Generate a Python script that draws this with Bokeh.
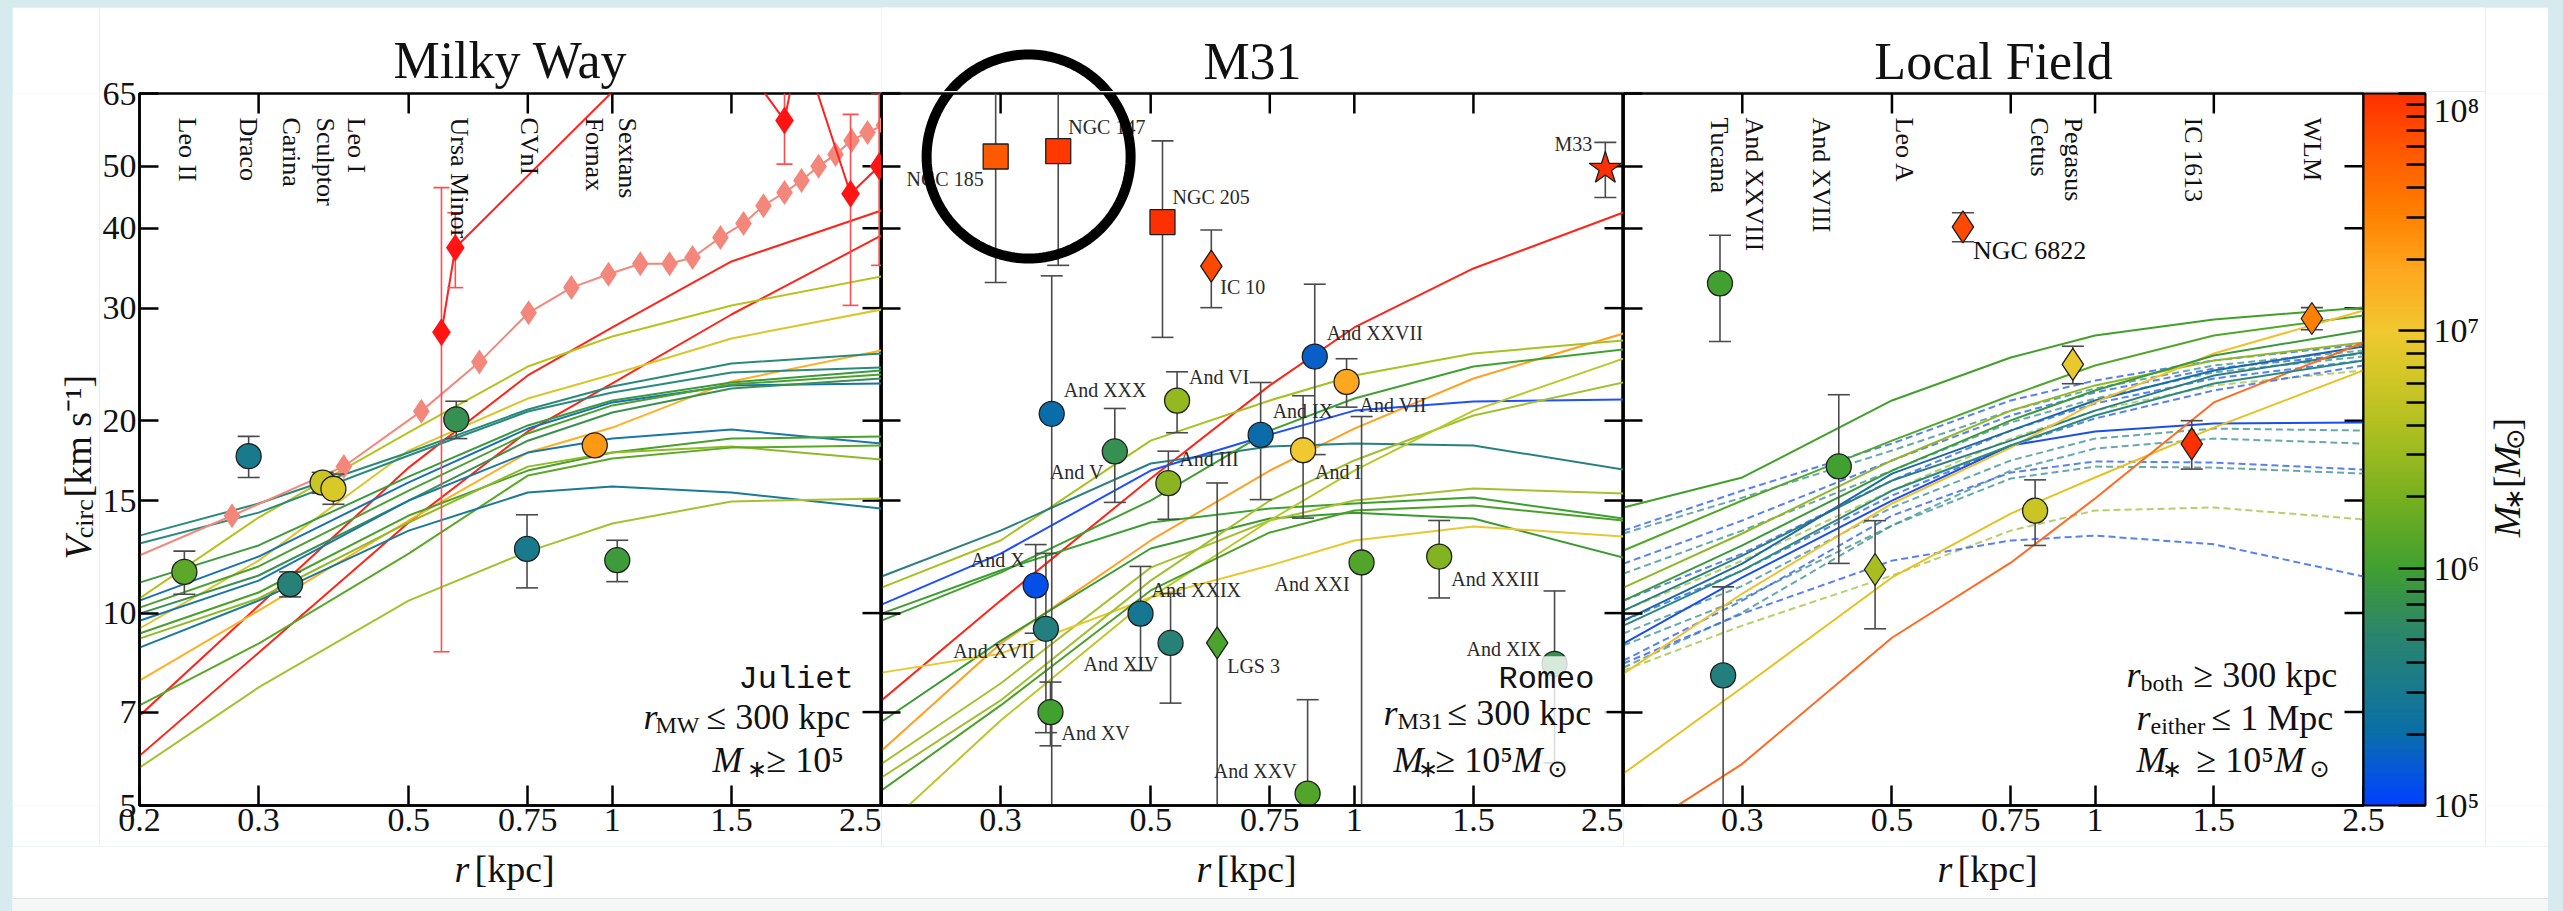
import math
import numpy as np
from bokeh.plotting import figure
from bokeh.layouts import row, column
from bokeh.models import (Range1d, FixedTicker, CustomJSTickFormatter,
                          LogColorMapper, ColorBar, ColumnDataSource)
from bokeh.core.properties import value
from bokeh.embed import file_html
from bokeh.resources import INLINE

SERIF = "Liberation Serif"
MONO = "Liberation Mono"
INK = "#111111"

# ------------------------------------------------------------------ data
R_TICKS = [0.2, 0.3, 0.5, 0.75, 1.0, 1.5, 2.5]
V_TICKS = [5, 7, 10, 15, 20, 30, 40, 50, 65]

# radii (kpc) at which the simulated circular-velocity curves are tabulated
curve_r = [0.2, 0.3, 0.5, 0.75, 1.0, 1.5, 2.5]

# Juliet (MW analogue) subhaloes, V_circ in km/s
juliet_vc = [
    [6.91, 10.27, 16.89, 23.54, 27.98, 35.49, 42.65],
    [5.98, 8.67, 13.86, 19.24, 22.87, 29.32, 38.98],
    [10.54, 14.11, 19.17, 24.31, 27.09, 30.29, 33.63],
    [9.46, 12.08, 17.96, 21.66, 23.62, 26.89, 29.85],
    [7.84, 10.09, 13.96, 17.83, 19.51, 23.04, 25.76],
    [13.22, 14.84, 17.83, 20.82, 22.62, 24.58, 25.48],
    [12.85, 14.36, 17.64, 20.67, 22.14, 23.80, 24.23],
    [11.16, 12.76, 16.35, 19.66, 21.51, 22.95, 23.97],
    [10.46, 12.26, 16.01, 19.44, 21.36, 22.71, 22.87],
    [10.20, 11.83, 15.55, 19.10, 21.13, 22.79, 23.62],
    [9.98, 11.45, 15.00, 18.61, 20.60, 22.46, 23.28],
    [9.73, 11.24, 15.00, 17.83, 18.75, 19.37, 18.42],
    [9.29, 10.77, 14.21, 16.71, 17.83, 18.75, 18.89],
    [9.12, 10.54, 13.86, 16.95, 17.83, 18.22, 17.39],
    [7.17, 8.96, 12.39, 16.41, 17.45, 18.15, 18.29],
    [8.83, 10.46, 13.46, 15.44, 15.78, 15.44, 14.57],
    [5.73, 7.65, 10.46, 12.48, 13.81, 14.95, 15.11],
]
# Romeo (M31 analogue) subhaloes
romeo_vc = [
    [7.30, 10.46, 16.24, 22.71, 27.98, 34.61, 42.34],
    [6.09, 8.96, 12.99, 16.71, 19.44, 23.28, 27.38],
    [10.96, 12.99, 18.61, 21.51, 23.54, 25.48, 26.70],
    [11.41, 13.46, 17.14, 18.22, 18.42, 18.29, 16.77],
    [10.31, 12.39, 16.71, 19.03, 20.74, 21.43, 21.59],
    [9.73, 11.57, 15.00, 19.30, 21.66, 24.31, 25.85],
    [9.98, 11.66, 13.86, 14.57, 14.84, 15.16, 14.06],
    [6.76, 9.05, 12.62, 14.06, 14.36, 14.06, 12.21],
    [5.81, 7.76, 11.78, 13.96, 15.00, 15.66, 15.38],
    [8.07, 8.64, 10.58, 11.87, 12.99, 13.66, 13.18],
    [5.53, 7.30, 11.24, 15.00, 17.33, 20.38, 22.95],
    [4.57, 6.79, 10.58, 13.96, 16.71, 20.74, 25.02],
    [5.28, 7.17, 10.85, 13.37, 14.47, 14.73, 13.96],
]
# isolated field haloes, first simulation (solid)
field_vc = [
    [14.63, 16.30, 21.51, 25.11, 27.18, 28.80, 30.07],
    [12.53, 15.00, 18.61, 21.90, 24.40, 27.18, 29.22],
    [10.96, 13.32, 17.33, 20.74, 22.71, 24.85, 26.51],
    [10.09, 12.30, 16.12, 18.61, 20.74, 23.54, 25.57],
    [8.96, 11.37, 15.00, 18.29, 19.24, 19.80, 19.87],
    [9.73, 11.95, 16.53, 19.30, 21.51, 23.97, 26.13],
    [8.04, 10.73, 14.84, 18.15, 21.36, 25.48, 29.75],
    [5.61, 7.65, 11.37, 14.31, 16.30, 19.51, 23.97],
    [4.41, 5.81, 9.15, 11.99, 15.11, 21.36, 26.51],
    [10.46, 12.76, 16.71, 20.02, 22.30, 25.30, 27.68],
    [9.56, 11.66, 15.55, 18.29, 20.38, 22.87, 24.85],
]
# isolated field haloes, second simulation (dashed)
field2_vc = [
    [13.46, 15.55, 18.42, 21.51, 23.11, 24.85, 26.32],
    [13.32, 15.16, 17.96, 20.74, 22.46, 24.40, 25.76],
    [11.95, 13.96, 17.33, 20.38, 22.14, 24.14, 25.48],
    [11.53, 13.46, 16.71, 19.87, 21.66, 23.80, 25.21],
    [10.46, 12.39, 16.12, 19.30, 21.28, 23.28, 24.85],
    [10.09, 12.08, 15.55, 18.75, 20.74, 22.71, 23.97],
    [9.73, 11.66, 15.27, 18.29, 20.16, 22.30, 24.40],
    [9.29, 11.03, 14.63, 17.33, 18.75, 19.44, 19.30],
    [8.90, 10.54, 13.71, 16.71, 18.09, 18.75, 18.42],
    [8.43, 10.46, 14.21, 16.59, 17.27, 17.20, 16.77],
    [8.22, 10.02, 13.71, 16.24, 16.95, 16.89, 16.53],
    [8.13, 9.56, 11.45, 13.46, 14.47, 14.63, 14.01],
    [8.34, 9.98, 12.08, 12.99, 13.22, 12.81, 11.41],
]

# rotation-curve measurements drawn in the MW panel
rc_pink_r = [0.15, 0.274, 0.401, 0.522, 0.636, 0.752, 0.870, 0.987, 1.10, 1.215,
             1.314, 1.445, 1.563, 1.673, 1.797, 1.904, 2.018, 2.138, 2.258, 2.384, 2.52]
rc_pink_v = [10.8, 14.2, 16.96, 20.7, 24.7, 29.5, 32.3, 33.9, 35.2, 35.2,
             36.0, 38.7, 40.7, 43.4, 45.5, 47.5, 50.0, 52.2, 54.9, 56.5, 58.0]
rc_red_r = [0.559, 0.586, 1.35, 1.797, 1.896, 2.25, 2.48]
rc_red_v = [27.5, 37.3, 89.6, 59.0, 78.7, 45.3, 50.0]
rc_red_err = [18.8, 5.0, 0.0, 8.6, 0.0, 15.0, 15.0]

# observed dwarfs: half-light radius (kpc), V_circ (km/s), errors, log10 M*
mw_name = ["Leo II", "Draco", "Carina", "Sculptor", "Leo I", "Ursa Minor",
           "CVnI", "Fornax", "Sextans"]
mw_r = [0.233, 0.290, 0.334, 0.373, 0.387, 0.588, 0.748, 0.942, 1.017]
mw_v = [11.6, 17.6, 11.1, 16.0, 15.65, 20.1, 12.6, 18.3, 12.1]
mw_err = [0.9, 1.3, 0.5, 0.6, 0.85, 1.35, 1.65, 0.4, 0.9]
mw_logm = [6.15, 5.5, 5.65, 6.75, 6.85, 5.85, 5.5, 7.35, 5.95]

m31_name = ["NGC 185", "NGC 147", "NGC 205", "IC 10", "M33", "And XXX", "And V",
            "And VI", "And III", "And X", "And XVII", "And XV", "And XIV",
            "And XXIX", "LGS 3", "And XXVII", "And VII", "And IX", "And I",
            "And XXI", "And XXIII", "And XIX", "And XXV"]
m31_r = [0.295, 0.365, 0.5205, 0.6146, 2.35, 0.357, 0.4425, 0.547, 0.531, 0.338,
         0.350, 0.3555, 0.483, 0.535, 0.627, 0.874, 0.974, 0.727, 0.840, 1.025,
         1.335, 1.977, 0.853]
m31_v = [51.8, 52.8, 40.9, 34.9, 49.6, 20.5, 17.9, 21.5, 15.97, 11.05, 9.45, 7.0,
         9.98, 8.98, 8.98, 25.2, 23.0, 19.0, 17.98, 12.0, 12.26, 8.33, 5.22]
m31_err_lo = [18.9, 17.8, 13.9, 4.85, 4.9, 16.5, 3.0, 2.35, 1.95, 1.75, 2.95, 0.8,
              1.85, 1.75, 7.0, 7.5, 2.0, 3.95, 3.9, 8.3, 1.7, 2.5, 2.1]
m31_err_hi = [18.9, 17.8, 13.9, 4.85, 4.9, 13.2, 3.0, 2.35, 1.95, 1.75, 2.95, 0.8,
              1.85, 1.75, 7.0, 7.5, 2.0, 3.95, 3.9, 8.3, 1.7, 2.5, 2.1]
m31_logm = [7.75, 7.95, 8.2, 7.85, 9.0, 5.3, 5.85, 6.45, 6.4, 5.1, 5.6, 6.0, 5.45,
            5.65, 6.05, 5.2, 7.25, 5.3, 7.0, 6.1, 6.35, 5.85, 6.1]

lf_name = ["Tucana", "And XXVIII", "And XVIII", "Leo A", "Cetus", "Pegasus",
           "NGC 6822", "IC 1613", "WLM"]
lf_r = [0.278, 0.281, 0.417, 0.472, 0.815, 0.927, 0.637, 1.391, 2.096]
lf_v = [32.8, 7.99, 16.96, 11.7, 14.46, 24.5, 40.2, 18.4, 28.9]
lf_err = [6.2, 3.0, 5.0, 2.25, 1.7, 1.65, 2.1, 1.6, 1.15]
lf_logm = [6.0, 5.6, 6.0, 6.55, 6.75, 6.95, 7.85, 8.0, 7.5]

# ------------------------------------------------------------------ styles
juliet_colors = ["#ff2418", "#ff2418", "#b5c41c", "#d9c62a", "#ffb020", "#2a8a7a",
                 "#2a8a80", "#3c9a3c", "#1a70b0", "#4aa030", "#3a9050", "#1a78a8",
                 "#4aa02a", "#8fba28", "#5aa828", "#1a7a98", "#a8c030"]
romeo_colors = ["#ff2418", "#ffa020", "#a8c020", "#2a8080", "#1f4fff", "#40a030",
                "#3aa030", "#3a9a30", "#a8c030", "#e8c830", "#a0c030", "#b8c828",
                "#4aa028"]
field_colors = ["#40a028", "#50a828", "#90b828", "#2a8080", "#1a50e8", "#1a6aa8",
                "#f0c030", "#e8c020", "#ff6a20", "#3a9a3a", "#2a8a80"]
field2_colors = ["#3b6cf0", "#4a9a9a", "#3b6cf0", "#4a9a9a", "#3b6cf0", "#a8c850",
                 "#3b6cf0", "#4a9a9a", "#4a9a9a", "#3b6cf0", "#4a9a9a", "#a8c850",
                 "#3b6cf0"]

mw_marker = ["circle"] * 9
mw_label_dx = [3, 0, 1, 3, 23, 3, 2, 0, 10]
m31_marker = ["square", "square", "square", "diamond", "star"] + ["circle"] * 9 + \
             ["diamond"] + ["circle"] * 8
m31_label = [(-12, 22, "right"), (10, -24, "left"), (10, -25, "left"), (9, 21, "left"),
             (-13, -25, "right"), (12, -24, "left"), (-11, 21, "right"),
             (12, -24, "left"), (11, -24, "left"), (-11, -25, "right"),
             (-11, 22, "right"), (11, 21, "left"), (18, 50, "right"),
             (-19, -53, "left"), (10, 23, "left"), (12, -24, "left"), (13, 23, "left"),
             (12, -24, "left"), (12, 22, "left"), (-12, 22, "right"), (12, 22, "left"),
             (-13, -15, "right"), (-11, -23, "right")]
lf_marker = ["circle", "circle", "circle", "diamond", "circle", "diamond", "diamond",
             "diamond", "diamond"]
lf_label_dx = [0, 31, -17, 29, 4, 1, None, 2, 1]
MSIZE = {"circle": 25, "square": 25, "diamond": 32, "star": 34}

# stellar-mass colour scale
anchors = [(0.00, "#0040ff"), (0.15, "#0758d8"), (0.30, "#0a6ea8"), (0.50, "#1a7a8c"),
           (0.70, "#2a8470"), (0.85, "#359050"), (1.00, "#40a030"), (1.30, "#78b020"),
           (1.60, "#b0c020"), (1.85, "#d8c828"), (2.00, "#f0c830"), (2.25, "#ffa820"),
           (2.50, "#ff8000"), (2.75, "#ff5a00"), (3.00, "#ff3000")]


def _rgb(h):
    return [int(h[i:i + 2], 16) for i in (1, 3, 5)]


palette = []
for k in range(256):
    t = 3.0 * k / 255
    for (t0, c0), (t1, c1) in zip(anchors[:-1], anchors[1:]):
        if t0 <= t <= t1:
            f = (t - t0) / (t1 - t0)
            a, b = _rgb(c0), _rgb(c1)
            palette.append("#%02x%02x%02x" % tuple(round(a[j] + f * (b[j] - a[j])) for j in range(3)))
            break
mapper = LogColorMapper(palette=palette, low=1e5, high=1e8)

# ------------------------------------------------------------------ page geometry (px)
PAGE_L, PAGE_T = 12, 7
LEFT_W, P1_LB, P3_RB, RIGHT_W = 87, 40, 122, 63
FRAME_W = (742, 742, 740)
HEAD_H, TOP_B, FRAME_H, BOT_B, FOOT_H = 84, 2, 712, 41, 65
FRAME_X0 = [PAGE_L + LEFT_W + P1_LB]
FRAME_X0.append(FRAME_X0[0] + FRAME_W[0])
FRAME_X0.append(FRAME_X0[1] + FRAME_W[1])
FRAME_TOP = PAGE_T + HEAD_H + TOP_B
FRAME_BOT = FRAME_TOP + FRAME_H
BODY_H = HEAD_H + TOP_B + FRAME_H + BOT_B   # everything above the foot strip
KY = math.log(65 / 5) / FRAME_H          # ln(v) per px


def make_panel(k, left, right, top, first_xlabel, ylabels):
    p = figure(width=left + FRAME_W[k] + right, height=top + FRAME_H + BOT_B,
               x_axis_type="log", y_axis_type="log",
               x_range=Range1d(0.2, 2.5), y_range=Range1d(5, 65),
               output_backend="svg", toolbar_location=None,
               min_border_left=left, min_border_right=right,
               min_border_top=top, min_border_bottom=BOT_B,
               background_fill_color="white", border_fill_color="white",
               outline_line_color="black", outline_line_width=2.5)
    p.grid.visible = False
    xa, ya = p.xaxis[0], p.yaxis[0]
    xa.ticker = FixedTicker(ticks=R_TICKS)
    xa.formatter = CustomJSTickFormatter(
        code="return String(tick);" if first_xlabel else "return tick < 0.25 ? '' : String(tick);")
    ya.ticker = FixedTicker(ticks=V_TICKS)
    ya.formatter = CustomJSTickFormatter(code="return String(tick);" if ylabels else "return '';")
    for ax, tick_len, labelled in ((xa, 20, True), (ya, 19, ylabels)):
        ax.major_tick_in = tick_len
        ax.major_tick_out = 0
        ax.minor_tick_in = 0
        ax.minor_tick_out = 0
        ax.major_tick_line_width = 2.5
        ax.major_tick_line_color = "black"
        ax.axis_line_width = 2.5
        ax.axis_line_color = "black"
        ax.major_label_text_font = SERIF
        ax.major_label_text_color = INK
        ax.major_label_text_font_size = "34px" if labelled else "0px"
        ax.major_label_standoff = 3 if labelled else 0
    # inward ticks on the top and right frame edges
    kx = math.log(2.5 / 0.2) / FRAME_W[k]
    rt = R_TICKS[1:-1]
    p.segment(x0=rt, y0=[65] * len(rt), x1=rt, y1=[65 * math.exp(-20 * KY)] * len(rt),
              line_color="black", line_width=2.5)
    vt = V_TICKS[1:-1]
    p.segment(x0=[2.5] * len(vt), y0=vt, x1=[2.5 * math.exp(-19 * kx)] * len(vt), y1=vt,
              line_color="black", line_width=2.5)
    return p


def strip(w, h):
    s = figure(width=w, height=h, x_range=Range1d(0, w), y_range=Range1d(0, h),
               output_backend="svg", toolbar_location=None, min_border=0,
               x_axis_location=None, y_axis_location=None,
               outline_line_color=None, background_fill_color="white",
               border_fill_color="white")
    s.grid.visible = False
    return s


def draw_curves(p, curves, colors, dash="solid", alpha=1.0):
    p.multi_line(xs=[curve_r] * len(curves), ys=curves, line_color=colors,
                 line_width=2.0, line_dash=dash, line_alpha=alpha)


def draw_points(p, r, v, lo, hi, logm, markers):
    vlo = [a - b for a, b in zip(v, lo)]
    vhi = [a + b for a, b in zip(v, hi)]
    p.segment(x0=r, y0=vlo, x1=r, y1=vhi, line_color="#4a4a4a", line_width=1.6)
    p.scatter(x=list(r) + list(r), y=vlo + vhi, marker="dash", size=22,
              line_color="#4a4a4a", line_width=1.6)
    src = ColumnDataSource(dict(r=r, v=v, mstar=[10 ** m for m in logm], marker=markers,
                                size=[MSIZE[m] for m in markers]))
    p.scatter(x="r", y="v", marker="marker", size="size", source=src,
              fill_color={"field": "mstar", "transform": mapper},
              line_color="#1e1e1e", line_width=1.3)


def top_labels(p, r, names, dx):
    keep = [i for i, d in enumerate(dx) if d is not None]
    p.text(x=[r[i] for i in keep], y=[65] * len(keep), text=[names[i] for i in keep],
           x_offset=[dx[i] for i in keep], y_offset=24, angle=-math.pi / 2,
           text_align="left", text_baseline="middle", text_font=value(SERIF),
           text_font_size="26px", text_color=INK)


def corner_text(p, pieces):
    # left-aligned, vertically centred pieces; offsets from the lower-right frame corner
    for txt, xo, yo, size, style, font in pieces:
        p.text(x=[2.5], y=[5], text=[txt], x_offset=xo, y_offset=yo,
               text_font=value(font), text_font_size=f"{size}px", text_font_style=style,
               text_align="left", text_baseline="middle", text_color=INK)


def mass_line(x_m, x_star, x_rel, x_m2, x_sun, y):
    out = [("M", x_m, y, 36, "italic", SERIF), ("∗", x_star, y + 9, 24, "normal", SERIF),
           ("≥ 10⁵", x_rel, y, 36, "normal", SERIF)]
    if x_m2 is not None:
        out += [("M", x_m2, y, 36, "italic", SERIF), ("⊙", x_sun, y + 9, 24, "normal", "DejaVu Sans")]
    return out


# ------------------------------------------------------------------ Milky Way
p1 = make_panel(0, P1_LB, 0, HEAD_H + TOP_B, True, True)
p1.title.text = "Milky Way"
p1.title.align = "center"
p1.title.vertical_align = "bottom"
p1.title.standoff = 10
p1.title.text_font = SERIF
p1.title.text_font_size = "52px"
p1.title.text_font_style = "normal"
p1.title.text_color = INK
draw_curves(p1, juliet_vc, juliet_colors)
p1.line(rc_pink_r, rc_pink_v, line_color="#f4877b", line_width=2)
p1.scatter(rc_pink_r, rc_pink_v, marker="diamond", size=25, fill_color="#f4877b", line_color=None)
rlo = [a - b for a, b in zip(rc_red_v, rc_red_err)]
rhi = [a + b for a, b in zip(rc_red_v, rc_red_err)]
p1.line(rc_red_r, rc_red_v, line_color="#ff2020", line_width=2)
p1.segment(x0=rc_red_r, y0=rlo, x1=rc_red_r, y1=rhi, line_color="#ff4d4d", line_width=1.6)
p1.scatter(x=rc_red_r + rc_red_r, y=rlo + rhi, marker="dash", size=16, line_color="#ff4d4d", line_width=1.6)
p1.scatter(rc_red_r, rc_red_v, marker="diamond", size=28, fill_color="#ff1414", line_color=None)
draw_points(p1, mw_r, mw_v, mw_err, mw_err, mw_logm, mw_marker)
top_labels(p1, mw_r, mw_name, mw_label_dx)
corner_text(p1, [
    ("Juliet", -143, -126, 32, "normal", MONO),
    ("r", -238, -89, 36, "italic", SERIF),
    ("MW", -226, -81, 24, "normal", SERIF),
    ("≤ 300 kpc", -175, -89, 36, "normal", SERIF),
] + mass_line(-169, -135, -115, None, None, -46))

# ------------------------------------------------------------------ M31
p2 = make_panel(1, 0, 0, TOP_B, False, False)
draw_curves(p2, romeo_vc, romeo_colors)
draw_points(p2, m31_r, m31_v, m31_err_lo, m31_err_hi, m31_logm, m31_marker)
p2.text(x=m31_r, y=m31_v, text=m31_name, x_offset=[a[0] for a in m31_label],
        y_offset=[a[1] for a in m31_label], text_align=[a[2] for a in m31_label],
        text_baseline="middle", text_font=value(SERIF), text_font_size="20px",
        text_color="#2a2a2a")
# translucent backing of the text block
p2.quad(left=[1.08], right=[2.36], bottom=[5.24], top=[8.56], fill_color="white",
        fill_alpha=0.8, line_color=None)
corner_text(p2, [
    ("Romeo", -125, -126, 32, "normal", MONO),
    ("r", -240, -93, 36, "italic", SERIF),
    ("M31", -226, -85, 24, "normal", SERIF),
    ("≤ 300 kpc", -176, -93, 36, "normal", SERIF),
] + mass_line(-230, -206, -188, -111, -76, -46))

# highlight ring around the two brightest ellipticals (centre in data units, radius in px)
hl_r, hl_v, hl_rad = 0.330, 51.8, 102
theta = np.linspace(0, 2 * np.pi, 181)
kx2 = math.log(12.5) / FRAME_W[1]
p2.line(list(hl_r * np.exp(kx2 * hl_rad * np.cos(theta))),
        list(hl_v * np.exp(KY * hl_rad * np.sin(theta))), line_color="black", line_width=10)

# ------------------------------------------------------------------ Local Field
p3 = make_panel(2, 0, P3_RB, TOP_B, False, False)
draw_curves(p3, field2_vc, field2_colors, dash="7 4", alpha=0.85)
draw_curves(p3, field_vc, field_colors)
draw_points(p3, lf_r, lf_v, lf_err, lf_err, lf_logm, lf_marker)
top_labels(p3, lf_r, lf_name, lf_label_dx)
p3.text(x=[lf_r[6]], y=[lf_v[6]], text=[lf_name[6]], x_offset=10, y_offset=24,
        text_align="left", text_baseline="middle", text_font=value(SERIF),
        text_font_size="26px", text_color=INK)
corner_text(p3, [
    ("r", -237, -131, 36, "italic", SERIF),
    ("both", -223, -123, 24, "normal", SERIF),
    ("≥ 300 kpc", -170, -131, 36, "normal", SERIF),
    ("r", -227, -88, 36, "italic", SERIF),
    ("either", -213, -80, 24, "normal", SERIF),
    ("≤ 1 Mpc", -152, -88, 36, "normal", SERIF),
] + mass_line(-227, -202, -167, -89, -54, -46))

cb = ColorBar(color_mapper=mapper, width=62, height=FRAME_H, padding=0, margin=0,
              location="top_left",
              ticker=FixedTicker(ticks=[1e5, 1e6, 1e7, 1e8],
                                 minor_ticks=[m * 10 ** e for e in (5, 6, 7) for m in range(2, 10)]),
              formatter=CustomJSTickFormatter(
                  code="const s = {5: '⁵', 6: '⁶', 7: '⁷', 8: '⁸'}; return '10' + s[Math.round(Math.log10(tick))];"),
              major_label_text_font=SERIF, major_label_text_font_size="34px",
              major_label_text_color=INK, label_standoff=8,
              major_tick_in=27, major_tick_out=0, major_tick_line_color="black",
              major_tick_line_width=2.5, minor_tick_in=19, minor_tick_out=0,
              minor_tick_line_color="black", minor_tick_line_width=2.5,
              bar_line_color="black", bar_line_width=2, border_line_color=None,
              background_fill_alpha=0)
p3.add_layout(cb, "right")

# ------------------------------------------------------------------ text strips around the panels
PAGE_W = LEFT_W + P1_LB + sum(FRAME_W) + P3_RB + RIGHT_W
centres = [x0 + w / 2 for x0, w in zip(FRAME_X0, FRAME_W)]


def strip_text(s, x, y, txt, size, style="normal", font=SERIF, angle=0.0, align="left"):
    s.text(x=x, y=y, text=txt, angle=angle, text_align=align, text_baseline="middle",
           text_font=value(font), text_font_style=style, text_font_size=f"{size}px",
           text_color=INK)


# titles of the M31 and Local Field panels, plus the top of the highlight ring
head_x0 = FRAME_X0[1]
head = strip(FRAME_W[1] + FRAME_W[2] + P3_RB, HEAD_H)
head_y = lambda py: PAGE_T + HEAD_H - py          # page y -> strip y
strip_text(head, [centres[1] - head_x0, centres[2] - head_x0], [head_y(61), head_y(61)],
           ["M31", "Local Field"], 52, align="center")
ring_px = FRAME_X0[1] + math.log(hl_r / 0.2) / kx2
ring_py = FRAME_TOP + math.log(65 / hl_v) / KY
head.line(list(ring_px - head_x0 + hl_rad * np.cos(theta)),
          list(head_y(ring_py) + hl_rad * np.sin(theta)), line_color="black", line_width=10)

side_y = lambda py: PAGE_T + BODY_H - py
left = strip(LEFT_W, BODY_H)
for txt, cx, sy, size, style in (("V", 77, 556, 38, "italic"), ("circ", 84, 531, 26, "normal"),
                                 ("[km s⁻¹]", 77, 483, 38, "normal")):
    strip_text(left, [cx - PAGE_L], [side_y(sy)], [txt], size, style, angle=math.pi / 2)

right = strip(RIGHT_W, BODY_H)
right_x0 = FRAME_X0[2] + FRAME_W[2] + P3_RB
for txt, cx, sy, size, style, font in (("M", 2506, 530, 38, "italic", SERIF),
                                       ("∗", 2514, 498, 26, "normal", SERIF),
                                       ("[", 2506, 472, 38, "normal", SERIF),
                                       ("M", 2506, 459, 38, "italic", SERIF),
                                       ("⊙", 2514, 427, 26, "normal", "DejaVu Sans"),
                                       ("]", 2506, 404, 38, "normal", SERIF)):
    strip_text(right, [cx - right_x0], [side_y(sy)], [txt], size, style, font, angle=math.pi / 2)

foot = strip(PAGE_W, FOOT_H)
foot_y = lambda py: FRAME_BOT + BOT_B + FOOT_H - py
# faint lower edge of the figure card
foot.quad(left=[0], right=[PAGE_W], bottom=[0], top=[foot_y(898)], fill_color="#f5f6f6",
          line_color=None)
foot.segment(x0=[0], y0=[foot_y(898)], x1=[PAGE_W], y1=[foot_y(898)], line_color="#e2e4e4",
             line_width=1)
strip_text(foot, [c - 56 - PAGE_L for c in centres], [foot_y(868)] * 3, ["r"] * 3, 38, "italic")
strip_text(foot, [c - 36 - PAGE_L for c in centres], [foot_y(868)] * 3, ["[kpc]"] * 3, 38)

body = row(left, p1, column(head, row(p2, p3)), right)
layout = column(body, foot, margin=(PAGE_T, 15, 0, PAGE_L))
html = file_html(layout, INLINE, title="Circular velocities of Local Group dwarfs")
html = html.replace("<head>", "<head><style>html,body{margin:0;padding:0;background:#d7ebee;}</style>", 1)
open("out.html", "w").write(html)
